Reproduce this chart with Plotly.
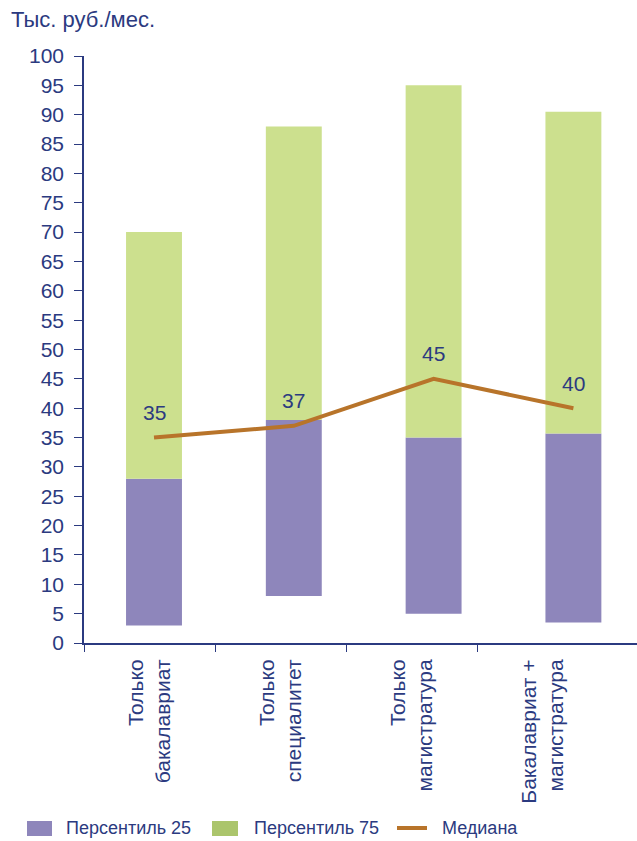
import plotly.graph_objects as go

categories = ["Только<br>бакалавриат", "Только<br>специалитет", "Только<br>магистратура", "Бакалавриат +<br>магистратура"]
bar_bottom = [3, 8, 5, 3.5]
p25_top = [28, 38, 35, 35.7]
p75_top = [70, 88, 95, 90.5]
median = [35, 37, 45, 40]
y_ticks = list(range(0, 101, 5))

NAVY = "#2b3a80"
PURPLE = "#8e86bb"
GREEN_BAR = "#cce08e"
GREEN_LEG = "#abc56c"
BROWN = "#b8742a"
FONT = "Liberation Sans"

fig = go.Figure()

fig.add_trace(go.Bar(
    x=categories, y=[t - b for t, b in zip(p25_top, bar_bottom)], base=bar_bottom,
    marker=dict(color=PURPLE, line=dict(width=0)), xaxis="x2", yaxis="y",
    name="Персентиль 25", showlegend=False, hoverinfo="skip"))
fig.add_trace(go.Bar(
    x=categories, y=[t - b for t, b in zip(p75_top, p25_top)], base=p25_top,
    marker=dict(color=GREEN_BAR, line=dict(width=0)), xaxis="x2", yaxis="y",
    name="Персентиль 75", showlegend=False, hoverinfo="skip"))
fig.add_trace(go.Scatter(
    x=categories, y=median, mode="lines", line=dict(color=BROWN, width=4),
    xaxis="x2", yaxis="y", name="Медиана", showlegend=False, hoverinfo="skip"))

for c, m in zip(categories, median):
    fig.add_annotation(x=c, y=m, xref="x2", yref="y", text=str(m), showarrow=False,
                       yshift=25, font=dict(family=FONT, size=21, color=NAVY))

# invisible trace on the label axis to hold categories
fig.add_trace(go.Scatter(x=categories, y=[None] * 4, xaxis="x3", yaxis="y",
                         showlegend=False, hoverinfo="skip"))
fig.add_trace(go.Scatter(x=[0], y=[None], xaxis="x", yaxis="y",
                         showlegend=False, hoverinfo="skip"))

W = 553.0
H = 587.0
def px(p):
    return (p - 84) / W
def py(p):
    return (643 - p) / H

# manual legend
legend_items = [("rect", PURPLE, 27, 52, "Персентиль 25", 64),
                ("rect", GREEN_LEG, 212, 238, "Персентиль 75", 252),
                ("line", BROWN, 397, 427, "Медиана", 440)]
for kind, col, x0, x1, label, tx in legend_items:
    if kind == "rect":
        fig.add_shape(type="rect", xref="paper", yref="paper", x0=px(x0), x1=px(x1),
                      y0=py(836), y1=py(821), fillcolor=col, line=dict(width=0))
    else:
        fig.add_shape(type="line", xref="paper", yref="paper", x0=px(x0), x1=px(x1),
                      y0=py(828), y1=py(828), line=dict(color=col, width=4))
    fig.add_annotation(xref="paper", yref="paper", x=px(tx), y=py(828), text=label,
                       xanchor="left", yanchor="middle", showarrow=False,
                       font=dict(family=FONT, size=18, color=NAVY))

fig.add_annotation(xref="paper", yref="paper", x=px(9), y=py(19), text="Тыс. руб./мес.",
                   xanchor="left", yanchor="middle", showarrow=False,
                   font=dict(family=FONT, size=22, color=NAVY))

x_range = [-0.5, -0.5 + W / 131.0]
fig.update_layout(
    width=637, height=841,
    margin=dict(l=84, r=0, t=56, b=198),
    paper_bgcolor="white", plot_bgcolor="white",
    barmode="overlay", bargap=0.6,
    showlegend=False,
    font=dict(family=FONT, size=20, color=NAVY),
    xaxis=dict(type="linear", range=x_range, tickvals=[-0.5, 0.5, 1.5, 2.5],
               showticklabels=False,
               ticks="outside", ticklen=7, tickcolor=NAVY, showline=True, linecolor=NAVY,
               linewidth=1.5, showgrid=False, zeroline=False, fixedrange=True),
    xaxis3=dict(type="category", overlaying="x", anchor="y", range=x_range,
                ticks="outside", ticklen=7, tickcolor="rgba(0,0,0,0)", showline=False,
                showgrid=False, tickangle=-90,
                tickfont=dict(family=FONT, size=21, color=NAVY), fixedrange=True),
    xaxis2=dict(type="category", overlaying="x", range=[-0.5007, -0.5007 + W / 139.8],
                visible=False, fixedrange=True),
    yaxis=dict(range=[0, 100], tickvals=y_ticks, ticks="outside", ticklen=8,
               tickcolor=NAVY, showline=True, linecolor=NAVY, linewidth=1.5,
               showgrid=False, zeroline=False, ticklabelstandoff=6,
               tickfont=dict(family=FONT, size=21, color=NAVY), fixedrange=True),
)

fig.write_html("out.html")
